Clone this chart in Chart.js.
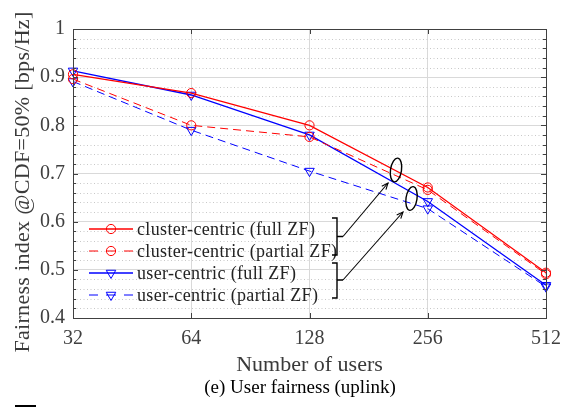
<!DOCTYPE html>
<html>
<head>
<meta charset="utf-8">
<script src="https://cdn.jsdelivr.net/npm/chart.js@4.4.1/dist/chart.umd.min.js"></script>
<style>
  html, body { margin: 0; padding: 0; background: #ffffff; }
  #wrap { width: 570px; height: 407px; position: relative; }
</style>
</head>
<body>
<div id="wrap"><canvas id="c" width="570" height="407"></canvas></div>
<script>
// Number of users (log2-spaced, shown as categories)
const users = ['32', '64', '128', '256', '512'];

// Fairness index at CDF = 50 %
const clusterFull    = [0.906, 0.867, 0.800, 0.671, 0.494];
const clusterPartial = [0.896, 0.800, 0.776, 0.666, 0.491];
const userFull       = [0.913, 0.863, 0.780, 0.642, 0.468];
const userPartial    = [0.891, 0.790, 0.705, 0.627, 0.465];

const seriesNames = [
  'cluster-centric (full ZF)',
  'cluster-centric (partial ZF)',
  'user-centric (full ZF)',
  'user-centric (partial ZF)'
];

const yTicks = [0.4, 0.5, 0.6, 0.7, 0.8, 0.9, 1];

const SERIF = '"Liberation Serif", "Times New Roman", serif';
const RED = '#ff0000';
const BLUE = '#0000ff';

function series(label, data, color, dashed, style) {
  return {
    label: label,
    data: data,
    borderColor: color,
    backgroundColor: 'rgba(0,0,0,0)',
    borderWidth: dashed ? 1 : 1.3,
    borderDash: dashed ? [8, 5] : [],
    pointStyle: style,
    pointRotation: style === 'triangle' ? 180 : 0,
    pointRadius: style === 'triangle' ? 5.5 : 4.6,
    pointBorderWidth: 1,
    pointBorderColor: color,
    pointBackgroundColor: 'rgba(0,0,0,0)',
    tension: 0,
    fill: false
  };
}

// Axis frame, inward ticks, dotted minor grid, labels, legend and notes
const framePlugin = {
  id: 'frame',
  beforeDatasetsDraw(chart) {
    const { ctx, chartArea: a, scales: { y } } = chart;
    ctx.save();
    ctx.strokeStyle = '#c8c8c8';
    ctx.lineWidth = 1;
    ctx.setLineDash([1, 2.5]);
    for (let k = 0; k <= 30; k++) {
      const v = 0.4 + k * 0.02;
      if (k % 5 === 0) continue;
      const py = Math.round(y.getPixelForValue(v)) + 0.5;
      ctx.beginPath();
      ctx.moveTo(a.left, py);
      ctx.lineTo(a.right, py);
      ctx.stroke();
    }
    ctx.restore();
  },
  afterDraw(chart) {
    const { ctx, chartArea: a, scales: { x, y } } = chart;
    ctx.save();
    ctx.strokeStyle = '#404040';
    ctx.lineWidth = 1;
    ctx.setLineDash([]);
    ctx.strokeRect(Math.round(a.left) + 0.5, Math.round(a.top) + 0.5,
                   Math.round(a.right - a.left), Math.round(a.bottom - a.top));
    // y ticks (major + minor), on both sides
    for (let k = 0; k <= 30; k++) {
      const v = 0.4 + k * 0.02;
      const len = (k % 5 === 0) ? 5 : 3;
      const py = Math.round(y.getPixelForValue(v)) + 0.5;
      ctx.beginPath();
      ctx.moveTo(a.left, py); ctx.lineTo(a.left + len, py);
      ctx.moveTo(a.right, py); ctx.lineTo(a.right - len, py);
      ctx.stroke();
    }
    // x ticks
    users.forEach((u, i) => {
      const px = Math.round(x.getPixelForValue(i)) + 0.5;
      ctx.beginPath();
      ctx.moveTo(px, a.bottom); ctx.lineTo(px, a.bottom - 5);
      ctx.moveTo(px, a.top); ctx.lineTo(px, a.top + 5);
      ctx.stroke();
    });

    // axis titles and caption
    ctx.fillStyle = '#3a3a3a';
    ctx.textAlign = 'center';
    ctx.textBaseline = 'middle';
    ctx.font = '22px ' + SERIF;
    ctx.fillText('Number of users', (a.left + a.right) / 2, 365);
    ctx.save();
    ctx.translate(23, 182);
    ctx.rotate(-Math.PI / 2);
    ctx.letterSpacing = '0.3px';
    ctx.fillText('Fairness index @CDF=50% [bps/Hz]', 0, 0);
    ctx.restore();
    ctx.fillStyle = '#000000';
    ctx.font = '19px ' + SERIF;
    ctx.fillText('(e) User fairness (uplink)', 300, 388);

    // legend (inside the axes, lower left)
    const rows = [229, 251, 273, 295];
    chart.data.datasets.forEach((ds, i) => {
      const ry = rows[i];
      ctx.strokeStyle = ds.borderColor;
      ctx.lineWidth = ds.borderWidth;
      ctx.setLineDash([]);
      ctx.beginPath();
      if (ds.borderDash.length) {
        ctx.moveTo(89, ry); ctx.lineTo(98, ry);
        ctx.moveTo(106, ry); ctx.lineTo(116, ry);
        ctx.moveTo(124, ry); ctx.lineTo(133, ry);
      } else {
        ctx.moveTo(89, ry); ctx.lineTo(133, ry);
      }
      ctx.stroke();
      ctx.lineWidth = 1;
      ctx.fillStyle = 'rgba(0,0,0,0)';
      Chart.helpers.drawPoint(ctx, {
        pointStyle: ds.pointStyle,
        rotation: ds.pointRotation,
        radius: ds.pointRadius,
        borderWidth: 1
      }, 111, ry);
      ctx.fillStyle = '#222222';
      ctx.textAlign = 'left';
      ctx.font = '18px ' + SERIF;
      ctx.letterSpacing = '0.35px';
      ctx.fillText(ds.label, 137, ry + 1);
      ctx.letterSpacing = '0px';
    });

    // grouping brackets, arrows and ellipses
    ctx.strokeStyle = '#000000';
    ctx.setLineDash([]);
    const groups = [
      { top: 218, bot: 255, mid: 236.5, tip: [388, 183], ell: [396, 170] },
      { top: 263, bot: 298, mid: 280,   tip: [403, 212], ell: [411.5, 198.5] }
    ];
    groups.forEach(g => {
      ctx.lineWidth = 1.4;
      ctx.beginPath();
      ctx.moveTo(332, g.top); ctx.lineTo(337, g.top);
      ctx.lineTo(337, g.bot); ctx.lineTo(332, g.bot);
      ctx.moveTo(337, g.mid); ctx.lineTo(343, g.mid);
      ctx.stroke();
      ctx.lineWidth = 1.1;
      ctx.beginPath();
      ctx.moveTo(343, g.mid);
      ctx.lineTo(g.tip[0], g.tip[1]);
      ctx.stroke();
      const ang = Math.atan2(g.tip[1] - g.mid, g.tip[0] - 343);
      ctx.beginPath();
      ctx.moveTo(g.tip[0] - 7 * Math.cos(ang - 0.4), g.tip[1] - 7 * Math.sin(ang - 0.4));
      ctx.lineTo(g.tip[0], g.tip[1]);
      ctx.lineTo(g.tip[0] - 7 * Math.cos(ang + 0.4), g.tip[1] - 7 * Math.sin(ang + 0.4));
      ctx.stroke();
      ctx.lineWidth = 1.4;
      ctx.beginPath();
      ctx.ellipse(g.ell[0], g.ell[1], 5.5, 12, 0.15, 0, Math.PI * 2);
      ctx.stroke();
    });

    // small mark at the page foot
    ctx.fillStyle = '#000000';
    ctx.fillRect(15, 405, 21, 2);
    ctx.restore();
  }
};

new Chart(document.getElementById('c'), {
  type: 'line',
  data: {
    labels: users,
    datasets: [
      series(seriesNames[0], clusterFull, RED, false, 'circle'),
      series(seriesNames[1], clusterPartial, RED, true, 'circle'),
      series(seriesNames[2], userFull, BLUE, false, 'triangle'),
      series(seriesNames[3], userPartial, BLUE, true, 'triangle')
    ]
  },
  options: {
    responsive: false,
    animation: false,
    devicePixelRatio: 1,
    layout: { padding: { top: 29, right: 23, left: 0, bottom: 0 } },
    plugins: {
      legend: { display: false },
      tooltip: { enabled: false }
    },
    scales: {
      x: {
        type: 'category',
        offset: false,
        grid: { color: '#d9d9d9', lineWidth: 1, drawTicks: false },
        border: { display: false },
        ticks: {
          font: { family: SERIF, size: 20 },
          color: '#404040',
          padding: 9,
          maxRotation: 0,
          autoSkip: false
        },
        afterFit(scale) { scale.height = 89; }
      },
      y: {
        min: 0.4,
        max: 1,
        afterBuildTicks(scale) { scale.ticks = yTicks.map(v => ({ value: v })); },
        grid: { color: '#d9d9d9', lineWidth: 1, drawTicks: false },
        border: { display: false },
        ticks: {
          font: { family: SERIF, size: 20 },
          color: '#404040',
          padding: 8,
          callback: v => (v === 1 ? '1' : v.toFixed(1))
        },
        afterFit(scale) { scale.width = 73; }
      }
    }
  },
  plugins: [framePlugin]
});
</script>
</body>
</html>
